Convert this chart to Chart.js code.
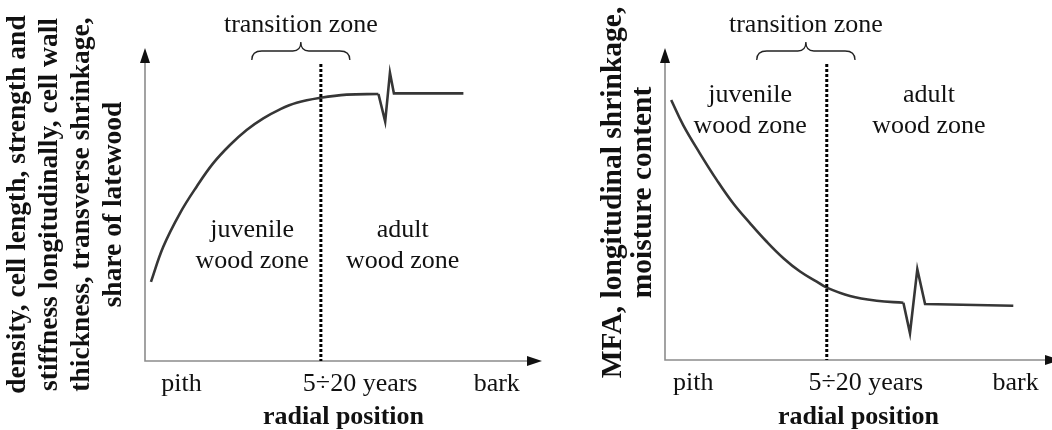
<!DOCTYPE html>
<html>
<head>
<meta charset="utf-8">
<script src="https://cdn.jsdelivr.net/npm/chart.js@4.4.1/dist/chart.umd.min.js"></script>
<style>
  html, body { margin: 0; padding: 0; background: #fff; }
  #wrap { position: relative; width: 1052px; height: 430px; overflow: hidden; }
  .panel { position: absolute; top: 0; height: 430px; }
  #left { left: 0; width: 545px; }
  #right { left: 540px; width: 512px; }
</style>
</head>
<body>
<div id="wrap">
  <div class="panel" id="left"><canvas id="chartLeft"></canvas></div>
  <div class="panel" id="right"><canvas id="chartRight"></canvas></div>
</div>
<script>
// radial position: 0 = pith ... 100 = end of the axis; level in relative units
const risingX = [1.5, 4.6, 8.8, 13.0, 17.2, 21.4, 25.6, 29.8, 34.0, 38.2, 44.3, 50.8, 58.8];
const risingY = [25.3, 36.5, 47.2, 55.7, 63.2, 69.0, 73.8, 77.5, 80.4, 82.5, 84.1, 85.1, 85.3];
const risingBreakX = [58.8, 60.5, 61.7, 62.7, 80.2];
const risingBreakY = [85.3, 76.5, 92.1, 85.5, 85.5];

const fallingX = [1.6, 4.7, 9.0, 13.4, 17.6, 22.0, 26.3, 30.6, 34.9, 39.2, 41.8, 47.8, 54.7, 61.6];
const fallingY = [77.6, 70.1, 61.7, 53.7, 46.8, 40.8, 35.3, 30.4, 26.4, 23.4, 21.6, 19.1, 17.7, 17.1];
const fallingBreakX = [61.6, 63.3, 65.2, 67.2, 90.0];
const fallingBreakY = [17.1, 8.0, 27.1, 16.7, 16.2];

const tickLabels = ['pith', '5÷20 years', 'bark'];
const leftTickPos = [9.2, 54.2, 88.6];
const rightTickPos = [7.3, 51.9, 90.6];

// juvenile / adult boundary and the transition zone around it
const leftBoundary = 44.3;
const rightBoundary = 41.8;
const leftTransition = [26.9, 51.6];
const rightTransition = [23.7, 49.1];

const leftTitle = ['density, cell length, strength and', 'stiffness longitudinally, cell wall',
  'thickness, transverse shrinkage,', 'share of latewood'];
const rightTitle = ['MFA, longitudinal shrinkage,', 'moisture content'];

const SERIF = '"Liberation Serif", "Times New Roman", serif';
const INK = '#111';

function pts(xs, ys) {
  return xs.map((v, i) => ({ x: v, y: ys[i] }));
}

// axes with arrow heads, boundary line, brace and zone captions
const sketchPlugin = {
  id: 'sketch',
  beforeDatasetsDraw(chart, args, o) {
    const { ctx, chartArea: a } = chart;
    const tipX = a.right + o.arrowOver;
    ctx.save();
    ctx.strokeStyle = '#8c8c8c';
    ctx.lineWidth = 1.6;
    ctx.beginPath();
    ctx.moveTo(a.left, o.arrowTop + 10);
    ctx.lineTo(a.left, a.bottom);
    ctx.lineTo(tipX - 10, a.bottom);
    ctx.stroke();

    ctx.fillStyle = INK;
    ctx.beginPath();
    ctx.moveTo(a.left, o.arrowTop);
    ctx.lineTo(a.left - 5, o.arrowTop + 15);
    ctx.lineTo(a.left + 5, o.arrowTop + 15);
    ctx.closePath();
    ctx.fill();
    ctx.beginPath();
    ctx.moveTo(tipX, a.bottom);
    ctx.lineTo(tipX - 15, a.bottom - 5);
    ctx.lineTo(tipX - 15, a.bottom + 5);
    ctx.closePath();
    ctx.fill();
    ctx.restore();
  },
  afterDatasetsDraw(chart, args, o) {
    const { ctx, chartArea: a, scales: { x, y } } = chart;
    ctx.save();

    // dotted boundary
    const bx = x.getPixelForValue(o.boundary);
    ctx.strokeStyle = '#000';
    ctx.lineWidth = 3;
    ctx.setLineDash([3, 2]);
    ctx.beginPath();
    ctx.moveTo(bx, 64);
    ctx.lineTo(bx, a.bottom);
    ctx.stroke();
    ctx.setLineDash([]);

    // curly brace over the transition zone
    const x1 = x.getPixelForValue(o.transition[0]);
    const x2 = x.getPixelForValue(o.transition[1]);
    const mid = (x1 + x2) / 2;
    const yEnd = 60, yLine = 51, yPeak = 42;
    ctx.strokeStyle = '#222';
    ctx.lineWidth = 1.3;
    ctx.beginPath();
    ctx.moveTo(x1, yEnd);
    ctx.quadraticCurveTo(x1, yLine, x1 + 10, yLine);
    ctx.lineTo(mid - 8, yLine);
    ctx.quadraticCurveTo(mid, yLine, mid, yPeak);
    ctx.quadraticCurveTo(mid, yLine, mid + 8, yLine);
    ctx.lineTo(x2 - 10, yLine);
    ctx.quadraticCurveTo(x2, yLine, x2, yEnd);
    ctx.stroke();

    ctx.fillStyle = INK;
    ctx.font = '26px ' + SERIF;
    ctx.textAlign = 'center';
    ctx.textBaseline = 'alphabetic';
    ctx.fillText('transition zone', mid, 32);

    o.zones.forEach(z => {
      const zx = x.getPixelForValue(z.x);
      const zy = y.getPixelForValue(z.y);
      z.lines.forEach((t, i) => ctx.fillText(t, zx, zy + i * 31.7));
    });
    ctx.restore();
  }
};

function makeChart(id, cfg) {
  return new Chart(document.getElementById(id), {
    type: 'line',
    data: {
      datasets: [{
        data: pts(cfg.curveX, cfg.curveY),
        borderColor: '#363636',
        borderWidth: 2.6,
        pointRadius: 0,
        tension: 0.4
      }, {
        data: pts(cfg.breakX, cfg.breakY),
        borderColor: '#363636',
        borderWidth: 2.6,
        pointRadius: 0,
        tension: 0,
        borderJoinStyle: 'miter'
      }]
    },
    options: {
      responsive: true,
      maintainAspectRatio: false,
      animation: false,
      devicePixelRatio: 1,
      layout: { padding: { top: cfg.padTop, right: cfg.padRight, left: 0, bottom: 0 } },
      plugins: {
        legend: { display: false },
        tooltip: { enabled: false },
        sketch: {
          arrowTop: 48,
          arrowOver: cfg.arrowOver,
          boundary: cfg.boundary,
          transition: cfg.transition,
          zones: cfg.zones
        }
      },
      scales: {
        x: {
          type: 'linear',
          min: 0,
          max: 100,
          afterFit(s) { s.height = cfg.axisHeight; },
          afterBuildTicks(s) { s.ticks = cfg.tickPos.map(v => ({ value: v })); },
          grid: { display: false, drawTicks: false },
          border: { display: false },
          ticks: {
            autoSkip: false,
            maxRotation: 0,
            padding: 8,
            color: INK,
            font: { family: SERIF, size: 26 },
            callback: (v, i) => tickLabels[i]
          },
          title: {
            display: true,
            text: 'radial position',
            color: INK,
            font: { family: SERIF, size: 26, weight: 'bold' },
            padding: { top: 0, bottom: -3 }
          }
        },
        y: {
          type: 'linear',
          min: 0,
          max: 100,
          afterFit(s) { s.width = cfg.axisWidth; },
          grid: { display: false, drawTicks: false },
          border: { display: false },
          ticks: { display: false },
          title: {
            display: true,
            text: cfg.title,
            color: INK,
            font: { family: SERIF, size: cfg.titleSize, weight: 'bold', lineHeight: cfg.titleLine },
            padding: { top: cfg.titlePad, bottom: 0 }
          }
        }
      }
    },
    plugins: [sketchPlugin]
  });
}

makeChart('chartLeft', {
  curveX: risingX, curveY: risingY, breakX: risingBreakX, breakY: risingBreakY,
  tickPos: leftTickPos, boundary: leftBoundary, transition: leftTransition,
  title: leftTitle, titleSize: 27.5, titleLine: '32px', titlePad: 2,
  axisWidth: 145, axisHeight: 69, padTop: 48, padRight: 3, arrowOver: 0,
  zones: [
    { lines: ['juvenile', 'wood zone'], x: 27.0, y: 39.7 },
    { lines: ['adult', 'wood zone'], x: 64.9, y: 39.7 }
  ]
});

makeChart('chartRight', {
  curveX: fallingX, curveY: fallingY, breakX: fallingBreakX, breakY: fallingBreakY,
  tickPos: rightTickPos, boundary: rightBoundary, transition: rightTransition,
  title: rightTitle, titleSize: 29.5, titleLine: '30px', titlePad: 58,
  axisWidth: 125, axisHeight: 70, padTop: 25, padRight: 0, arrowOver: 8,
  zones: [
    { lines: ['juvenile', 'wood zone'], x: 22.0, y: 77.1 },
    { lines: ['adult', 'wood zone'], x: 68.2, y: 77.1 }
  ]
});
</script>
</body>
</html>
